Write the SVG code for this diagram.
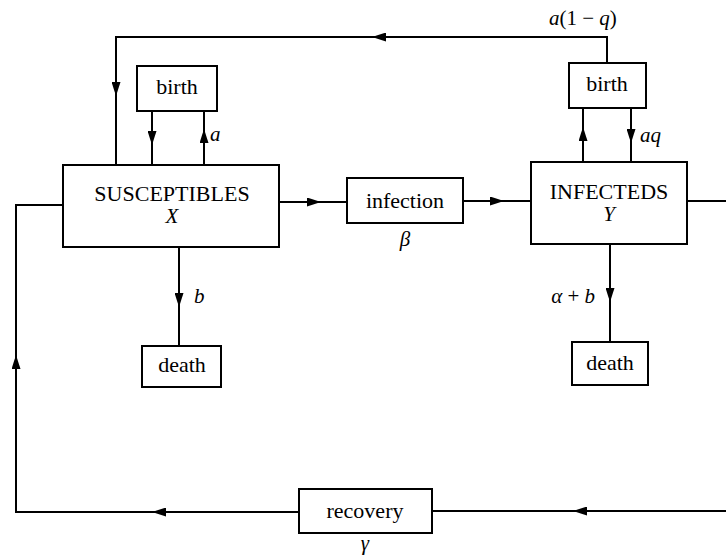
<svg xmlns="http://www.w3.org/2000/svg" width="726" height="558" viewBox="0 0 726 558">
<style>
.box{fill:#fff;stroke:#000;stroke-width:2}
.ln{fill:none;stroke:#000;stroke-width:2}
.t{font-family:"Liberation Serif","Times New Roman",serif;font-size:22px;fill:#000;text-anchor:middle}
.it{font-family:"Liberation Serif","Times New Roman",serif;font-size:21px;font-style:italic;fill:#000}
.up{font-style:normal}
</style>
<defs>
<marker id="ar" viewBox="0 0 14 9" refX="14" refY="4.5" markerWidth="14" markerHeight="9" markerUnits="userSpaceOnUse" orient="auto">
<path d="M0,0 L14,4.5 L0,9 Z" fill="#000"/>
</marker>
</defs>
<rect width="726" height="558" fill="#fff"/>
<g id="connectors">
<path class="ln" d="M607,63 V37 H372"/>
<path class="ln" d="M386,37 H372" marker-end="url(#ar)"/>
<path class="ln" d="M372,37 H116 V165"/>
<path class="ln" d="M116,80 V96" marker-end="url(#ar)"/>
<path class="ln" d="M152,111 V165"/>
<path class="ln" d="M152,128 V145" marker-end="url(#ar)"/>
<path class="ln" d="M204,165 V111"/>
<path class="ln" d="M204,146 V129" marker-end="url(#ar)"/>
<path class="ln" d="M583,162 V108"/>
<path class="ln" d="M583,144 V127" marker-end="url(#ar)"/>
<path class="ln" d="M631,108 V162"/>
<path class="ln" d="M631,126 V143" marker-end="url(#ar)"/>
<path class="ln" d="M279,202 H347"/>
<path class="ln" d="M305,202 H321" marker-end="url(#ar)"/>
<path class="ln" d="M463,201 H531"/>
<path class="ln" d="M488,201 H504" marker-end="url(#ar)"/>
<path class="ln" d="M179,247 V346"/>
<path class="ln" d="M179,290 V307" marker-end="url(#ar)"/>
<path class="ln" d="M610,244 V342"/>
<path class="ln" d="M610,285 V302" marker-end="url(#ar)"/>
<path class="ln" d="M687,201 H727 V511 H432"/>
<path class="ln" d="M590,511 H573" marker-end="url(#ar)"/>
<path class="ln" d="M299,512 H16 V205 H63"/>
<path class="ln" d="M170,512 H152" marker-end="url(#ar)"/>
<path class="ln" d="M16,372 V355" marker-end="url(#ar)"/>
</g>
<g id="susceptibles">
<rect class="box" x="63" y="165" width="216" height="82"/>
<text class="t" x="172" y="201">SUSCEPTIBLES</text>
<text class="it" x="172" y="223" text-anchor="middle" font-size="22">X</text>
</g>
<g id="infecteds">
<rect class="box" x="531" y="162" width="156" height="82"/>
<text class="t" x="609" y="199">INFECTEDS</text>
<text class="it" x="609" y="221" text-anchor="middle" font-size="22">Y</text>
</g>
<g id="birth-s">
<rect class="box" x="137" y="66" width="80" height="45"/>
<text class="t" x="177" y="94">birth</text>
</g>
<g id="birth-i">
<rect class="box" x="569" y="63" width="77" height="45"/>
<text class="t" x="607" y="91">birth</text>
</g>
<g id="infection">
<rect class="box" x="347" y="178" width="116" height="45"/>
<text class="t" x="405" y="208">infection</text>
</g>
<g id="death-s">
<rect class="box" x="142" y="346" width="79" height="41"/>
<text class="t" x="182" y="372">death</text>
</g>
<g id="death-i">
<rect class="box" x="572" y="342" width="76" height="43"/>
<text class="t" x="610" y="370">death</text>
</g>
<g id="recovery">
<rect class="box" x="299" y="489" width="133" height="44"/>
<text class="t" x="365" y="518">recovery</text>
</g>
<g id="labels">
<text class="it" x="549" y="25">a<tspan class="up">(1 − </tspan>q<tspan class="up">)</tspan></text>
<text class="it" x="210" y="141">a</text>
<text class="it" x="640" y="142">aq</text>
<text class="it" x="194" y="303">b</text>
<text class="it" x="595" y="303" text-anchor="end">α <tspan class="up">+</tspan> b</text>
<text class="it" x="405" y="246" text-anchor="middle">β</text>
<text class="it" x="365" y="550" text-anchor="middle">γ</text>
</g>
</svg>
